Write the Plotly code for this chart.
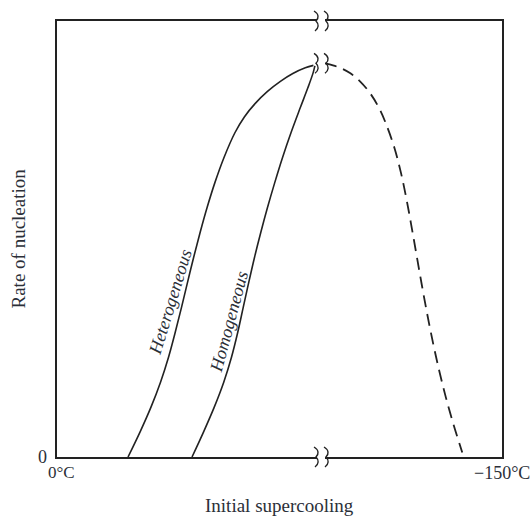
import plotly.graph_objects as go

# Relative scales: supercooling runs 0..100 across the axis, nucleation rate 0..100
hetero_x = [15.96, 18.65, 21.12, 23.26, 25.06, 26.57, 27.98, 29.33, 30.70, 32.16, 33.73,
            35.48, 37.51, 39.98, 42.10, 44.56, 47.30, 50.20, 53.00, 55.80, 57.62]
hetero_y = [0.00, 5.72, 11.44, 17.16, 22.88, 28.60, 34.32, 40.05, 45.77, 51.49, 57.21,
            62.93, 68.65, 74.37, 78.00, 81.10, 83.85, 86.15, 87.95, 89.25, 89.82]

homo_x = [30.34, 32.92, 35.34, 37.47, 39.21, 40.62, 41.85, 43.09, 44.38, 45.79, 47.30,
          48.93, 50.67, 52.58, 54.66, 56.37, 57.55, 57.95]
homo_y = [0.00, 5.72, 11.44, 17.16, 22.88, 28.60, 34.32, 40.05, 45.77, 51.49, 57.21,
          62.93, 68.65, 74.37, 80.09, 84.67, 88.10, 89.70]

decline_x = [60.22, 62.02, 63.91, 65.93, 68.09, 70.38, 72.40, 73.89, 75.85, 77.31, 78.49,
             79.53, 80.52, 81.50, 82.51, 83.58, 84.73, 86.00, 87.40, 88.98, 91.07]
decline_y = [90.27, 89.82, 89.13, 87.99, 86.16, 83.41, 79.98, 76.54, 70.82, 65.10, 59.38,
             53.66, 47.94, 42.22, 36.50, 30.78, 25.06, 19.34, 13.62, 7.89, 1.03]

X_RANGE = [0, 100]
Y_RANGE = [0, 100]
break_x = 59.1          # position of the axis break
curve_break_y = 90.3    # height of the break on the curve

x_tick_labels = ["0°C", "−150°C"]
y_tick_label = "0"

INK = "#222222"
TEXT = "#2b2f38"
FONT = "Liberation Serif"

fig = go.Figure()
fig.add_trace(go.Scatter(x=hetero_x, y=hetero_y, mode="lines",
                         line=dict(color=INK, width=1.6, shape="spline", smoothing=1),
                         hoverinfo="skip"))
fig.add_trace(go.Scatter(x=homo_x, y=homo_y, mode="lines",
                         line=dict(color=INK, width=1.6, shape="spline", smoothing=1),
                         hoverinfo="skip"))
fig.add_trace(go.Scatter(x=decline_x, y=decline_y, mode="lines",
                         line=dict(color=INK, width=1.8, dash="12px,7px",
                                   shape="spline", smoothing=1),
                         hoverinfo="skip"))

# Break symbols: a white gap closed by two wavy strokes.
# Paper-referenced so the marks on the frame are not clipped by the plot area.
squiggle_l = "M -6,10 C -1,7 -1,3 -4,0 C -1,-3 -1,-7 -5,-10"
squiggle_r = "M 4,10 C 9,7 9,3 6,0 C 9,-3 9,-7 5,-10"
bx = (break_x - X_RANGE[0]) / (X_RANGE[1] - X_RANGE[0])
shapes = []
for yb in (Y_RANGE[0], Y_RANGE[1], curve_break_y):
    by = (yb - Y_RANGE[0]) / (Y_RANGE[1] - Y_RANGE[0])
    common = dict(xref="paper", yref="paper", xsizemode="pixel", ysizemode="pixel",
                  xanchor=bx, yanchor=by, layer="above")
    shapes.append(dict(type="rect", x0=-3, x1=5, y0=-5, y1=5,
                       fillcolor="white", line=dict(width=0), **common))
    for p in (squiggle_l, squiggle_r):
        shapes.append(dict(type="path", path=p, line=dict(color=INK, width=1.4), **common))

annotations = [
    dict(text=y_tick_label, xref="paper", yref="y", x=0, y=0, xanchor="right",
         yanchor="middle", xshift=-8, showarrow=False, font=dict(size=18)),
    dict(text=x_tick_labels[0], xref="paper", yref="y", x=0, y=0, xanchor="left",
         yanchor="top", xshift=-11, yshift=-4, showarrow=False, font=dict(size=17)),
    dict(text=x_tick_labels[1], xref="paper", yref="y", x=1, y=0, xanchor="center",
         yanchor="top", xshift=0, yshift=-4, showarrow=False, font=dict(size=18)),
    dict(text="Initial supercooling", xref="paper", yref="paper", x=0.5, y=0,
         xanchor="center", yanchor="top", yshift=-36, xshift=0, showarrow=False,
         font=dict(size=19)),
    dict(text="Rate of nucleation", xref="paper", yref="paper", x=0, y=0.5,
         xanchor="right", yanchor="middle", xshift=-27, textangle=-90, showarrow=False,
         font=dict(size=19)),
    dict(text="<i>Heterogeneous</i>", xref="x", yref="y", x=25.5, y=35.5, textangle=-73,
         showarrow=False, font=dict(size=18)),
    dict(text="<i>Homogeneous</i>", xref="x", yref="y", x=38.6, y=31.0, textangle=-75,
         showarrow=False, font=dict(size=18)),
]

fig.update_layout(
    width=532, height=516,
    margin=dict(l=57, r=30, t=21, b=59),
    paper_bgcolor="white", plot_bgcolor="white",
    showlegend=False,
    font=dict(family=FONT, color=TEXT, size=17),
    shapes=shapes, annotations=annotations,
    xaxis=dict(range=X_RANGE, showgrid=False, zeroline=False, showticklabels=False,
               ticks="", showline=True, mirror=True, linecolor=INK, linewidth=2,
               fixedrange=True),
    yaxis=dict(range=Y_RANGE, showgrid=False, zeroline=False, showticklabels=False,
               ticks="", showline=True, mirror=True, linecolor=INK, linewidth=2,
               fixedrange=True),
)

fig.write_html("out.html")
